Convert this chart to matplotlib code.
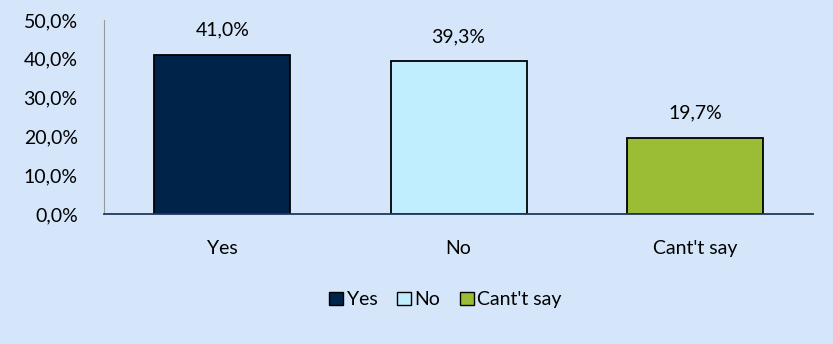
import matplotlib
matplotlib.use('Agg')
import matplotlib.pyplot as plt
import matplotlib.patches as mpatches
from matplotlib.ticker import FuncFormatter

categories = ["Yes", "No", "Cant't say"]
legend_labels = ["Yes", "No", "Cant't say"]
values = [41.0, 39.3, 19.7]
colors = ['#00234A', '#C0EEFF', '#9ABD35']
bg = '#D5E6FA'

plt.rcParams['font.family'] = ['Lato', 'DejaVu Sans']

fig = plt.figure(figsize=(8.33, 3.44), dpi=100, facecolor=bg)
ax = fig.add_axes([0.125, 0.378, 0.851, 0.564])
ax.set_facecolor(bg)

x = range(len(categories))
bars = ax.bar(x, values, width=0.575, color=colors, edgecolor='black', linewidth=1.3)
for i, v in enumerate(values):
    ax.text(i, v + 4.2, ('%.1f%%' % v).replace('.', ','), ha='center', va='bottom', fontsize=14)

ax.set_xlim(-0.5, 2.5)
ax.set_ylim(0, 50)
ax.set_yticks([0, 10, 20, 30, 40, 50])
ax.yaxis.set_major_formatter(FuncFormatter(lambda v, p: ('%.1f%%' % v).replace('.', ',')))
ax.set_xticks(list(x))
ax.set_xticklabels(categories)
ax.tick_params(axis='both', length=0, labelsize=14)
ax.tick_params(axis='y', pad=19)
ax.tick_params(axis='x', pad=19)

ax.spines["top"].set_visible(False)
ax.spines["right"].set_visible(False)
ax.spines["left"].set_color('#999999')
ax.spines["bottom"].set_color('#1F3A5F')
ax.spines["bottom"].set_linewidth(1.3)

handles = [mpatches.Patch(facecolor=c, edgecolor='black', label=l) for c, l in zip(colors, legend_labels)]
fig.legend(handles=handles, loc='center', bbox_to_anchor=(0.535, 0.128), ncol=3, frameon=False,
           fontsize=14, handlelength=0.7, handleheight=0.7, handletextpad=0.2, columnspacing=1.0)

plt.savefig("out.png", dpi=100, facecolor=bg)
